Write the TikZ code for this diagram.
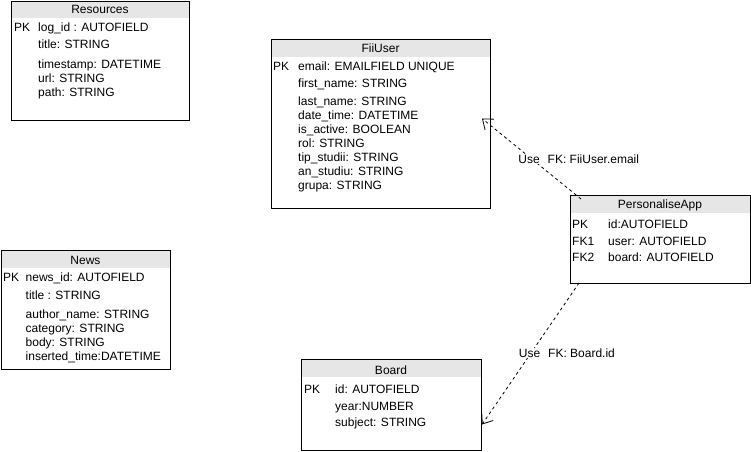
\documentclass[tikz,border=0pt]{standalone}
\usepackage{fontspec}
\setmainfont{Liberation Sans}
\usetikzlibrary{arrows.meta}
\definecolor{hdrgray}{RGB}{230,230,230}
\tikzset{
  tbl/.style={draw=black, line width=1pt, inner sep=0pt, anchor=north west},
  hdr/.style={fill=hdrgray, draw=none, inner sep=0pt, anchor=north west},
  txt/.style={anchor=base west, inner sep=0pt, font=\fontsize{12}{14}\selectfont},
  ttl/.style={anchor=base, inner sep=0pt, font=\fontsize{12}{14}\selectfont},
  uselbl/.style={anchor=base, inner sep=1pt, fill=white, font=\fontsize{12}{14}\selectfont},
  fkedge/.style={line width=0.8pt, dash pattern=on 3pt off 3pt, -{Straight Barb[length=9pt,width=14pt]}},
}
\begin{document}
\begin{tikzpicture}[x=1pt,y=-1pt]
\useasboundingbox (0,0) rectangle (751,451);

% ---------- Resources ----------
\node[hdr, minimum width=178pt, minimum height=17pt] (resh) at (11,1) {};
\node[tbl, minimum width=178pt, minimum height=119pt] (res) at (11,1) {};
\node[ttl] (rest) at (100,13.5) {Resources};
\node[txt] (respk) at (14,31.7) {PK};
\node[txt] (resf1) at (38,31.7) {log\_id : AUTOFIELD};
\node[txt] (resf2) at (38,48.5) {title: STRING};
\node[txt] (resf3) at (38,68.2) {timestamp: DATETIME};
\node[txt] (resf4) at (38,82) {url: STRING};
\node[txt] (resf5) at (38,96) {path: STRING};

% ---------- FiiUser ----------
\node[hdr, minimum width=219pt, minimum height=18pt] (fiih) at (271,39) {};
\node[tbl, minimum width=219pt, minimum height=169pt] (fii) at (271,39) {};
\node[ttl] (fiit) at (380.5,52.3) {FiiUser};
\node[txt] (fiipk) at (273,70) {PK};
\node[txt] (fiif1) at (298,70) {email: EMAILFIELD UNIQUE};
\node[txt] (fiif2) at (298,87.7) {first\_name: STRING};
\node[txt] (fiif3) at (298,105.7) {last\_name: STRING};
\node[txt] (fiif4) at (298,119.7) {date\_time: DATETIME};
\node[txt] (fiif5) at (298,133.7) {is\_active: BOOLEAN};
\node[txt] (fiif6) at (298,147.7) {rol: STRING};
\node[txt] (fiif7) at (298,161.7) {tip\_studii: STRING};
\node[txt] (fiif8) at (298,175.7) {an\_studiu: STRING};
\node[txt] (fiif9) at (298,189.7) {grupa: STRING};

% ---------- News ----------
\node[hdr, minimum width=169pt, minimum height=18pt] (newsh) at (1,250) {};
\node[tbl, minimum width=169pt, minimum height=119pt] (news) at (1,250) {};
\node[ttl] (newst) at (85.5,264) {News};
\node[txt] (newspk) at (3,281.7) {PK};
\node[txt] (newsf1) at (25.5,281.7) {news\_id: AUTOFIELD};
\node[txt] (newsf2) at (25.5,299.5) {title : STRING};
\node[txt] (newsf3) at (25.5,318) {author\_name: STRING};
\node[txt] (newsf4) at (25.5,332) {category: STRING};
\node[txt] (newsf5) at (25.5,346) {body: STRING};
\node[txt] (newsf6) at (25.5,360) {inserted\_time:DATETIME};

% ---------- Board ----------
\node[hdr, minimum width=180pt, minimum height=18pt] (boardh) at (301,359) {};
\node[tbl, minimum width=180pt, minimum height=91pt] (board) at (301,359) {};
\node[ttl] (boardt) at (391,374) {Board};
\node[txt] (boardpk) at (304,393.3) {PK};
\node[txt] (boardf1) at (335,393.3) {id: AUTOFIELD};
\node[txt] (boardf2) at (335,410) {year:NUMBER};
\node[txt] (boardf3) at (335,426.7) {subject: STRING};

% ---------- PersonaliseApp ----------
\node[hdr, minimum width=180pt, minimum height=18pt] (pah) at (570,195) {};
\node[tbl, minimum width=180pt, minimum height=88pt] (pa) at (570,195) {};
\node[ttl] (pat) at (660,208.3) {PersonaliseApp};
\node[txt] (papk) at (572,228.3) {PK};
\node[txt] (paf1) at (608,228.3) {id:AUTOFIELD};
\node[txt] (pafk1) at (572,245) {FK1};
\node[txt] (paf2) at (608,245) {user: AUTOFIELD};
\node[txt] (pafk2) at (572,261.7) {FK2};
\node[txt] (paf3) at (608,261.7) {board: AUTOFIELD};

% ---------- connectors ----------
\draw[fkedge] ([xshift=11pt,yshift=-4pt]pa.north west) -- ([xshift=-9pt,yshift=5.5pt]fii.east);
\node[uselbl] (use1) at (529,163.3) {Use};
\node[txt] (fk1lbl) at (547.5,163.3) {FK: FiiUser.email};

\draw[fkedge] ([xshift=9pt,yshift=1pt]pa.south west) -- ([yshift=-19.5pt]board.east);
\node[uselbl] (use2) at (529.5,357.3) {Use};
\node[txt] (fk2lbl) at (548,357.3) {FK: Board.id};
\end{tikzpicture}
\end{document}
